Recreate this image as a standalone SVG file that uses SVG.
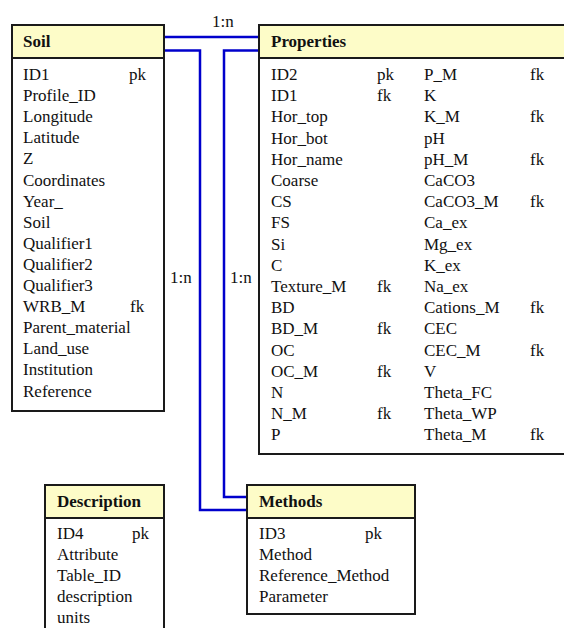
<svg xmlns="http://www.w3.org/2000/svg" width="564" height="628" viewBox="0 0 564 628">
<style>
.box{fill:#ffffff;stroke:#1a1a1a;stroke-width:2}
.hdr{fill:#fdfcc8;stroke:#1a1a1a;stroke-width:2}
.t{font-family:"Liberation Serif","Times New Roman",serif;font-size:17px;fill:#111}
.h{font-family:"Liberation Serif","Times New Roman",serif;font-size:17px;font-weight:bold;fill:#111}
.c{fill:none;stroke:#0000cc;stroke-width:2.5}
</style>
<rect width="564" height="628" fill="#ffffff"/>
<g id="connectors">
<polyline class="c" points="164,37 259,37"/>
<polyline class="c" points="164,50.5 200,50.5 200,510 247,510"/>
<polyline class="c" points="259,50.5 224,50.5 224,497 247,497"/>
<text class="t" x="212" y="27">1:n</text>
<text class="t" x="170" y="283">1:n</text>
<text class="t" x="230" y="283">1:n</text>
</g>
<g id="soil">
<rect class="box" x="12" y="25" width="152" height="386"/>
<rect class="hdr" x="12" y="25" width="152" height="33"/>
<text class="h" x="23" y="47">Soil</text>
<g class="t">
<text x="23" y="80">ID1</text><text x="129" y="80">pk</text>
<text x="23" y="101.1">Profile_ID</text>
<text x="23" y="122.2">Longitude</text>
<text x="23" y="143.3">Latitude</text>
<text x="23" y="164.4">Z</text>
<text x="23" y="185.5">Coordinates</text>
<text x="23" y="206.6">Year_</text>
<text x="23" y="227.7">Soil</text>
<text x="23" y="248.8">Qualifier1</text>
<text x="23" y="269.9">Qualifier2</text>
<text x="23" y="291">Qualifier3</text>
<text x="23" y="312.1">WRB_M</text><text x="130" y="312.1">fk</text>
<text x="23" y="333.2">Parent_material</text>
<text x="23" y="354.3">Land_use</text>
<text x="23" y="375.4">Institution</text>
<text x="23" y="396.5">Reference</text>
</g>
</g>
<g id="properties">
<rect class="box" x="259" y="25" width="320" height="429"/>
<rect class="hdr" x="259" y="25" width="320" height="33"/>
<text class="h" x="271" y="47">Properties</text>
<g class="t">
<text x="271" y="80">ID2</text><text x="377" y="80">pk</text><text x="424" y="80">P_M</text><text x="530" y="80">fk</text>
<text x="271" y="101.2">ID1</text><text x="377" y="101.2">fk</text><text x="424" y="101.2">K</text>
<text x="271" y="122.4">Hor_top</text><text x="424" y="122.4">K_M</text><text x="530" y="122.4">fk</text>
<text x="271" y="143.6">Hor_bot</text><text x="424" y="143.6">pH</text>
<text x="271" y="164.8">Hor_name</text><text x="424" y="164.8">pH_M</text><text x="530" y="164.8">fk</text>
<text x="271" y="186">Coarse</text><text x="424" y="186">CaCO3</text>
<text x="271" y="207.2">CS</text><text x="424" y="207.2">CaCO3_M</text><text x="530" y="207.2">fk</text>
<text x="271" y="228.4">FS</text><text x="424" y="228.4">Ca_ex</text>
<text x="271" y="249.6">Si</text><text x="424" y="249.6">Mg_ex</text>
<text x="271" y="270.8">C</text><text x="424" y="270.8">K_ex</text>
<text x="271" y="292">Texture_M</text><text x="377" y="292">fk</text><text x="424" y="292">Na_ex</text>
<text x="271" y="313.2">BD</text><text x="424" y="313.2">Cations_M</text><text x="530" y="313.2">fk</text>
<text x="271" y="334.4">BD_M</text><text x="377" y="334.4">fk</text><text x="424" y="334.4">CEC</text>
<text x="271" y="355.6">OC</text><text x="424" y="355.6">CEC_M</text><text x="530" y="355.6">fk</text>
<text x="271" y="376.8">OC_M</text><text x="377" y="376.8">fk</text><text x="424" y="376.8">V</text>
<text x="271" y="398">N</text><text x="424" y="398">Theta_FC</text>
<text x="271" y="419.2">N_M</text><text x="377" y="419.2">fk</text><text x="424" y="419.2">Theta_WP</text>
<text x="271" y="440.4">P</text><text x="424" y="440.4">Theta_M</text><text x="530" y="440.4">fk</text>
</g>
</g>
<g id="methods">
<rect class="box" x="247" y="485" width="168" height="129"/>
<rect class="hdr" x="247" y="485" width="168" height="33"/>
<text class="h" x="259" y="507">Methods</text>
<g class="t">
<text x="259" y="539">ID3</text><text x="365" y="539">pk</text>
<text x="259" y="560">Method</text>
<text x="259" y="581">Reference_Method</text>
<text x="259" y="602">Parameter</text>
</g>
</g>
<g id="description">
<rect class="box" x="45" y="485" width="119" height="160"/>
<rect class="hdr" x="45" y="485" width="119" height="33"/>
<text class="h" x="57" y="507">Description</text>
<g class="t">
<text x="57" y="539">ID4</text><text x="132" y="539">pk</text>
<text x="57" y="560">Attribute</text>
<text x="57" y="581">Table_ID</text>
<text x="57" y="602">description</text>
<text x="57" y="623">units</text>
</g>
</g>
</svg>
